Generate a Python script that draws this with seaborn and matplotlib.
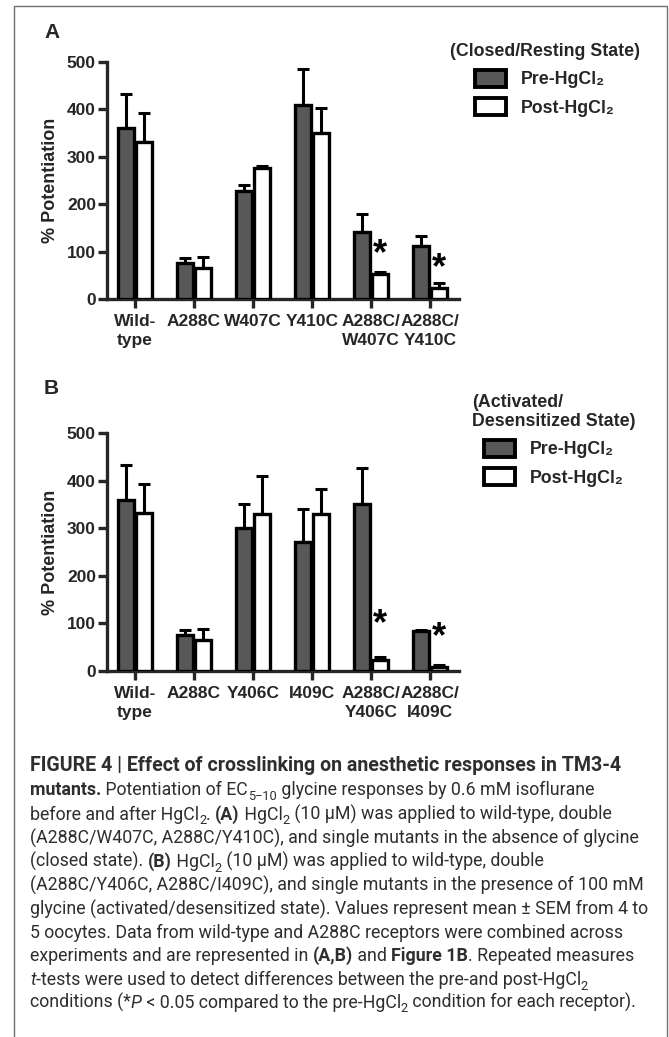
import numpy as np
import pandas as pd
import seaborn as sns
import matplotlib
matplotlib.use("Agg")
import matplotlib.pyplot as plt
from matplotlib.patches import Rectangle
from matplotlib.transforms import IdentityTransform

# ---------------- data ----------------
conditions = ["Pre-HgCl\u2082", "Post-HgCl\u2082"]

receptors_A = ["Wild-\ntype", "A288C", "W407C", "Y410C", "A288C/\nW407C", "A288C/\nY410C"]
pre_A = [360, 76, 228, 410, 141, 112]
pre_A_sem = [72, 11, 13, 76, 38, 20]
post_A = [331, 66, 276, 351, 53, 24]
post_A_sem = [61, 22, 4, 53, 4, 10]
star_A = [None, None, None, None, 94, 63]   # level of "*" annotation (post bar)

receptors_B = ["Wild-\ntype", "A288C", "Y406C", "I409C", "A288C/\nY406C", "A288C/\nI409C"]
pre_B = [360, 76, 300, 270, 350, 83]
pre_B_sem = [72, 11, 50, 70, 76, 4]
post_B = [331, 66, 330, 330, 23, 9]
post_B_sem = [61, 22, 80, 53, 7, 3]
star_B = [None, None, None, None, 98, 71]

yticks = [0, 100, 200, 300, 400, 500]
ylabel = "% Potentiation"
legend_title_A = "(Closed/Resting State)"
legend_title_B = "(Activated/\nDesensitized State)"

PRE_COLOR = "#585858"
W, H = 669, 1037

sns.set_style("ticks")
AX_FAM = ["Liberation Sans", "DejaVu Sans"]
plt.rcParams["font.family"] = AX_FAM
plt.rcParams["font.weight"] = "bold"

fig = plt.figure(figsize=(W / 100, H / 100), dpi=100)


def px_axes(x0, y_top, x1, y_bot):
    return [x0 / W, 1 - y_bot / H, (x1 - x0) / W, (y_bot - y_top) / H]


def panel(ax, receptors, pre, pre_sem, post, post_sem, stars, ltitle, lanchor):
    df = pd.DataFrame({
        "receptor": receptors * 2,
        "condition": [conditions[0]] * len(receptors) + [conditions[1]] * len(receptors),
        "value": pre + post,
    })
    sns.barplot(data=df, x="receptor", y="value", hue="condition", order=receptors,
                hue_order=conditions, palette=[PRE_COLOR, "white"], saturation=1,
                edgecolor="black", linewidth=2.4, width=0.62, gap=0.13,
                errorbar=None, ax=ax, zorder=3)
    sems = [pre_sem, post_sem]
    post_centers = {}
    for h, cont in enumerate(list(ax.containers)[:2]):
        for bar in cont:
            xc = bar.get_x() + bar.get_width() / 2
            i = int(round(xc))
            top = bar.get_height()
            ax.errorbar(xc, top, yerr=[[0], [sems[h][i]]], fmt="none", ecolor="black",
                        elinewidth=2.2, capsize=4.5, capthick=2.2, zorder=2, clip_on=False)
            if h == 1:
                post_centers[i] = xc
    for i, s in enumerate(stars):
        if s is not None:
            ax.text(post_centers[i], s, "*", ha="center", va="center",
                    fontsize=26, fontweight="bold", color="black")

    ax.set_xlim(-0.4746, 5.4915)
    ax.set_ylim(0, 500)
    ax.set_yticks(yticks)
    ax.set_xlabel("")
    ax.set_ylabel(ylabel, fontsize=13, fontweight="bold")
    ax.yaxis.set_label_coords(-0.136, 0.5)
    sns.despine(ax=ax)
    for sp in ("left", "bottom"):
        ax.spines[sp].set_linewidth(2.4)
    ax.tick_params(axis="both", direction="out", length=6.5, width=2.4, labelsize=12.5)
    ax.tick_params(axis="y", pad=1.5)
    ax.tick_params(axis="x", pad=4.5)
    for lab in ax.get_xticklabels() + ax.get_yticklabels():
        lab.set_fontweight("bold")
        lab.set_linespacing(1.3)

    sns.move_legend(ax, loc="upper left", bbox_to_anchor=lanchor,
                    bbox_transform=fig.transFigure, title=ltitle, frameon=False,
                    fontsize=12.8, title_fontproperties={"weight": "bold", "size": 12.8},
                    handlelength=1.75, handleheight=1.1, handletextpad=0.85,
                    labelspacing=0.55, borderpad=0, borderaxespad=0)
    leg = ax.get_legend()
    leg.get_title().set_multialignment("left")
    leg.get_title().set_linespacing(1.15)
    for t in leg.get_texts():
        t.set_fontweight("bold")
    for hdl in leg.legend_handles:
        hdl.set_edgecolor("black")
        hdl.set_linewidth(2.8)


axA = fig.add_axes(px_axes(107, 62, 459, 299))
panel(axA, receptors_A, pre_A, pre_A_sem, post_A, post_A_sem, star_A,
      legend_title_A, (450 / W, 1 - 43 / H))
axB = fig.add_axes(px_axes(107, 433, 459, 671))
panel(axB, receptors_B, pre_B, pre_B_sem, post_B, post_B_sem, star_B,
      legend_title_B, (472 / W, 1 - 394 / H))

fig.text(44 / W, 1 - 33 / H, "A", fontsize=15, fontweight="bold", va="center", ha="left")
fig.text(44 / W, 1 - 389 / H, "B", fontsize=15, fontweight="bold", va="center", ha="left")

# frame
fig.add_artist(Rectangle((14 / W, -0.02), (667 - 14) / W, 1.02 - 6 / H,
                         transform=fig.transFigure, fill=False, edgecolor="#6f6f6f", lw=1.0))

# ---------------- caption ----------------
CAP_FAM = ["Roboto", "Liberation Sans", "DejaVu Sans"]
CAP_COL = "#2e2e2e"
renderer = fig.canvas.get_renderer()

caption = [
    [("FIGURE 4 | Effect of crosslinking on anesthetic responses in TM3-4", "b")],
    [("mutants.", "b"), (" Potentiation of EC", "r"), ("5\u221210", "s"),
     (" glycine responses by 0.6 mM isoflurane", "r")],
    [("before and after HgCl", "r"), ("2", "s"), (". ", "r"), ("(A)", "b"),
     (" HgCl", "r"), ("2", "s"), (" (10 \u03bcM) was applied to wild-type, double", "r")],
    [("(A288C/W407C, A288C/Y410C), and single mutants in the absence of glycine", "r")],
    [("(closed state). ", "r"), ("(B)", "b"), (" HgCl", "r"), ("2", "s"),
     (" (10 \u03bcM) was applied to wild-type, double", "r")],
    [("(A288C/Y406C, A288C/I409C), and single mutants in the presence of 100 mM", "r")],
    [("glycine (activated/desensitized state). Values represent mean \u00b1 SEM from 4 to", "r")],
    [("5 oocytes. Data from wild-type and A288C receptors were combined across", "r")],
    [("experiments and are represented in ", "r"), ("(A,B)", "b"), (" and ", "r"),
     ("Figure 1B", "b"), (". Repeated measures", "r")],
    [("t", "i"), ("-tests were used to detect differences between the pre-and post-HgCl", "r"),
     ("2", "s")],
    [("conditions (*", "r"), ("P", "i"), (" < 0.05 compared to the pre-HgCl", "r"), ("2", "s"),
     (" condition for each receptor).", "r")],
]
line_y = [771, 795, 820, 844, 867, 891, 915, 938, 961, 985, 1008]


def style_kw(st, size):
    if st == "b":
        return dict(fontsize=size, fontweight="bold", fontstyle="normal")
    if st == "i":
        return dict(fontsize=size, fontweight="normal", fontstyle="italic")
    if st == "s":
        return dict(fontsize=size * 0.72, fontweight="normal", fontstyle="normal")
    return dict(fontsize=size, fontweight="normal", fontstyle="normal")


def seg_width(txt, kw):
    t1 = fig.text(0, 0, txt + "|", family=CAP_FAM, **kw)
    t2 = fig.text(0, 0, "|", family=CAP_FAM, **kw)
    w = t1.get_window_extent(renderer).width - t2.get_window_extent(renderer).width
    t1.remove(); t2.remove()
    return w


def line_width(segs, size):
    return sum(seg_width(t, style_kw(s, size)) for t, s in segs)


# fit sizes to the reference line lengths
reg_size = 10 * 611 / line_width(caption[5], 10)
bold_size = 10 * 592 / line_width(caption[0], 10)

for segs, y in zip(caption, line_y):
    x = 30
    for txt, st in segs:
        size = bold_size if (segs is caption[0]) else reg_size
        kw = style_kw(st, size)
        dy = -4.5 if st == "s" else 0
        fig.text(x, H - y + dy, txt, family=CAP_FAM, color=CAP_COL, ha="left",
                 va="baseline", transform=IdentityTransform(), **kw)
        x += seg_width(txt, kw)

fig.savefig("out.png", dpi=100)
